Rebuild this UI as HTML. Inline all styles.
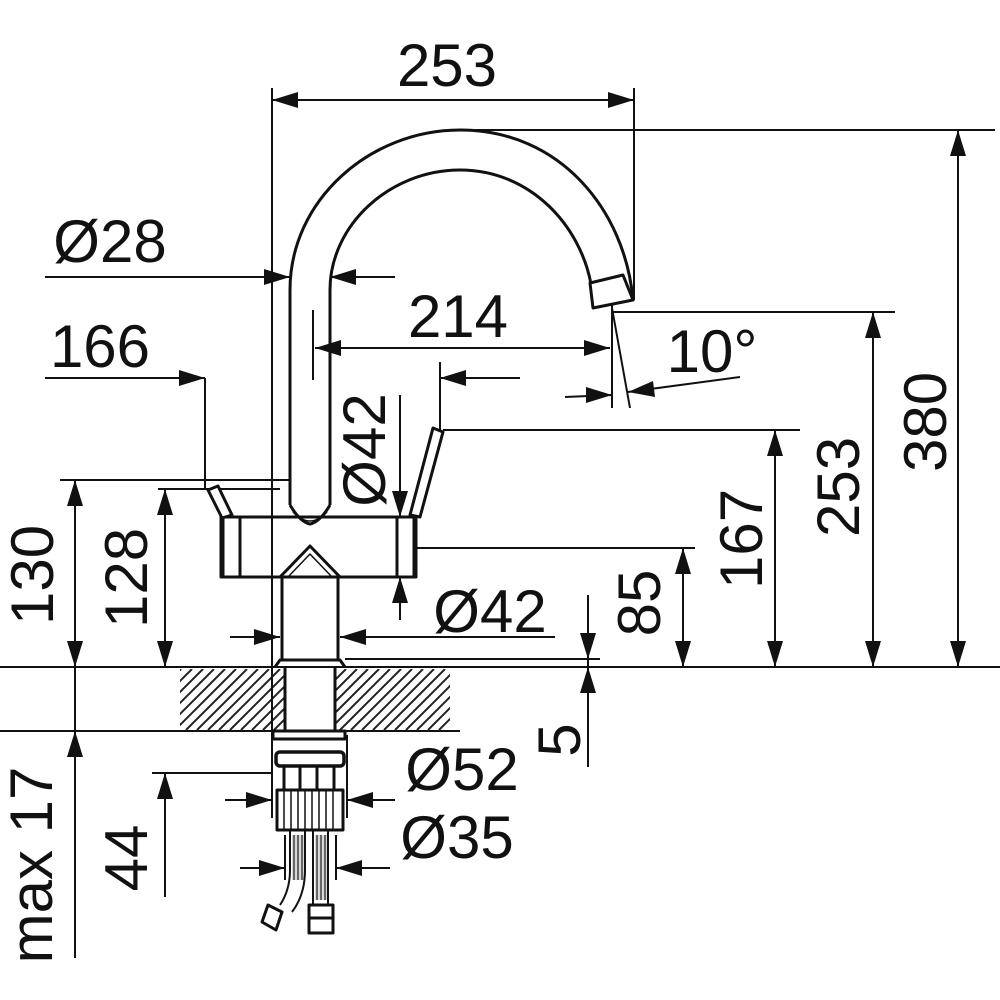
<!DOCTYPE html>
<html><head><meta charset="utf-8"><style>
html,body{margin:0;padding:0;background:#fff}
svg{display:block}
text{font-family:"Liberation Sans",sans-serif;font-size:60px;fill:#111}
</style></head><body>
<svg width="1000" height="1000" viewBox="0 0 1000 1000" xmlns="http://www.w3.org/2000/svg">
<defs>
<clipPath id="hc"><rect x="180" y="669" width="270" height="61"/></clipPath>
</defs>
<g clip-path="url(#hc)" stroke="#222" stroke-width="2">
<path d="M120,730 L181,669 M131,730 L192,669 M142,730 L203,669 M153,730 L214,669 M164,730 L225,669 M175,730 L236,669 M186,730 L247,669 M197,730 L258,669 M208,730 L269,669 M219,730 L280,669 M230,730 L291,669 M241,730 L302,669 M252,730 L313,669 M263,730 L324,669 M274,730 L335,669 M285,730 L346,669 M296,730 L357,669 M307,730 L368,669 M318,730 L379,669 M329,730 L390,669 M340,730 L401,669 M351,730 L412,669 M362,730 L423,669 M373,730 L434,669 M384,730 L445,669 M395,730 L456,669 M406,730 L467,669 M417,730 L478,669 M428,730 L489,669 M439,730 L500,669"/>
</g>
<rect x="285" y="668" width="50" height="63" fill="#fff"/>
<g stroke="#111" stroke-width="2" fill="none">
<path d="M272,88 V818 M634,88 V300 M460,130 H995 M612,312 H895 M443,430 H800 M417,548 H695 M0,667 H1000 M0,731 H460 M60,480 H290 M158,489 H280 M152,773 H272 M345,659 H600 M205,378 V490 M440,362 V432 M313,310 V380 M612,305 V408 M612,308 L630,408 M347,735 V818 M285,835 V880 M336,835 V880"/>
<path d="M272,100 H634 M958,130 V667 M873,312 V667 M775,430 V667 M683,548 V667 M588,595 V767 M75,480 V958 M165,489 V667 M165,773 V897 M45,277 H290 M330,277 H395 M45,378 H205 M440,378 H520 M315,348 H610 M565,397 L612,395 M740,377 L628,392 M400,395 V517 M400,577 V620 M230,637 H280 M340,637 H555 M225,800 H272 M347,800 H395 M240,868 H285 M336,868 H390"/>
</g>
<g fill="#111">
<polygon points="298,92 272,100 298,108"/><polygon points="608,92 634,100 608,108"/>
<polygon points="950,156 958,130 966,156"/><polygon points="950,641 958,667 966,641"/>
<polygon points="865,338 873,312 881,338"/><polygon points="865,641 873,667 881,641"/>
<polygon points="767,456 775,430 783,456"/><polygon points="767,641 775,667 783,641"/>
<polygon points="675,574 683,548 691,574"/><polygon points="675,641 683,667 691,641"/>
<polygon points="580,633 588,659 596,633"/><polygon points="580,693 588,667 596,693"/>
<polygon points="67,506 75,480 83,506"/><polygon points="67,641 75,667 83,641"/>
<polygon points="157,515 165,489 173,515"/><polygon points="157,641 165,667 173,641"/>
<polygon points="67,757 75,731 83,757"/><polygon points="157,799 165,773 173,799"/>
<polygon points="264,269 290,277 264,285"/><polygon points="356,269 330,277 356,285"/>
<polygon points="179,370 205,378 179,386"/><polygon points="466,370 440,378 466,386"/>
<polygon points="341,340 315,348 341,356"/><polygon points="584,340 610,348 584,356"/>
<polygon points="586,387 612,395 586,403"/><polygon points="653,381 628,392 655,397"/>
<polygon points="392,491 400,517 408,491"/><polygon points="392,603 400,577 408,603"/>
<polygon points="254,629 280,637 254,645"/><polygon points="366,629 340,637 366,645"/>
<polygon points="246,792 272,800 246,808"/><polygon points="373,792 347,800 373,808"/>
<polygon points="259,860 285,868 259,876"/><polygon points="362,860 336,868 362,876"/>
</g>
<g stroke="#111" stroke-width="3" fill="none" stroke-linejoin="round">
<path d="M285,667 V731 M335,667 V731"/>
<path d="M290,505 L290,290 C290,200 370,130 460,130 C560,130 625,210 633,300"/>
<path d="M330,505 L330,290 C330,225 390,170 460,170 C530,170 580,225 591,284"/>
<polygon points="590,283 623,275 633,300 593,308" fill="#fff"/>
<path d="M290,505 Q300,522 310,524 Q320,522 330,505"/>
<path d="M293,512 Q310,530 327,512" stroke-width="1.5"/>
<rect x="221" y="517" width="195" height="60"/>
<path d="M222,517 V577 M415,517 V577" stroke-width="5"/>
<path d="M240,517 V577 M397,517 V577"/>
<polygon points="208,490 218,486 232,515 222,518" fill="#fff"/>
<polygon points="433,428 443,432 420,517 410,515" fill="#fff"/>
<path d="M280,577 L310,546 L340,577"/>
<path d="M288,577 L310,554 L332,577" stroke-width="1.5"/>
<path d="M282,577 V660 M338,577 V660"/>
<path d="M275,667 L280,660 L340,660 L345,667"/>
<rect x="273" y="731" width="72" height="8"/>
<rect x="276" y="752" width="68" height="14" rx="4" stroke-width="3.5"/>
<path d="M284,766 V790 M300,766 V790 M317,766 V790 M334,766 V790"/>
<rect x="277" y="790" width="66" height="40"/>
<path d="M284,790 V830 M291,790 V830 M298,790 V830 M305,790 V830 M312,790 V830 M319,790 V830 M326,790 V830 M333,790 V830" stroke-width="1.5"/>
<path d="M290,830 L290,870 Q290,890 280,905 M305,830 L305,870 Q305,895 292,912" stroke-width="2"/>
<path d="M313,830 V905 M328,830 V905" stroke-width="2"/>
<path d="M294,835 V880 M298,835 V880 M302,835 V880 M317,835 V900 M321,835 V900 M325,835 V900" stroke="#666" stroke-width="2.5"/>
<polygon points="268,905 282,912 276,930 262,922" fill="#fff"/>
<rect x="309" y="905" width="24" height="28" fill="#fff"/>
<path d="M309,918 H333"/>
</g>
<text x="447" y="86" text-anchor="middle">253</text>
<text x="110" y="262" text-anchor="middle">Ø28</text>
<text x="100" y="367" text-anchor="middle">166</text>
<text x="458" y="337" text-anchor="middle">214</text>
<text x="712" y="372" text-anchor="middle">10°</text>
<text x="490" y="632" text-anchor="middle">Ø42</text>
<text x="462" y="790" text-anchor="middle">Ø52</text>
<text x="457" y="858" text-anchor="middle">Ø35</text>
<text transform="translate(946,422) rotate(-90)" text-anchor="middle">380</text>
<text transform="translate(859,487) rotate(-90)" text-anchor="middle">253</text>
<text transform="translate(762,539) rotate(-90)" text-anchor="middle">167</text>
<text transform="translate(660,603) rotate(-90)" text-anchor="middle">85</text>
<text transform="translate(580,740) rotate(-90)" text-anchor="middle">5</text>
<text transform="translate(53,575) rotate(-90)" text-anchor="middle">130</text>
<text transform="translate(147,578) rotate(-90)" text-anchor="middle">128</text>
<text transform="translate(52,865) rotate(-90)" text-anchor="middle">max 17</text>
<text transform="translate(147,858) rotate(-90)" text-anchor="middle">44</text>
<text transform="translate(385,450) rotate(-90)" text-anchor="middle">Ø42</text>
</svg>
</body></html>
